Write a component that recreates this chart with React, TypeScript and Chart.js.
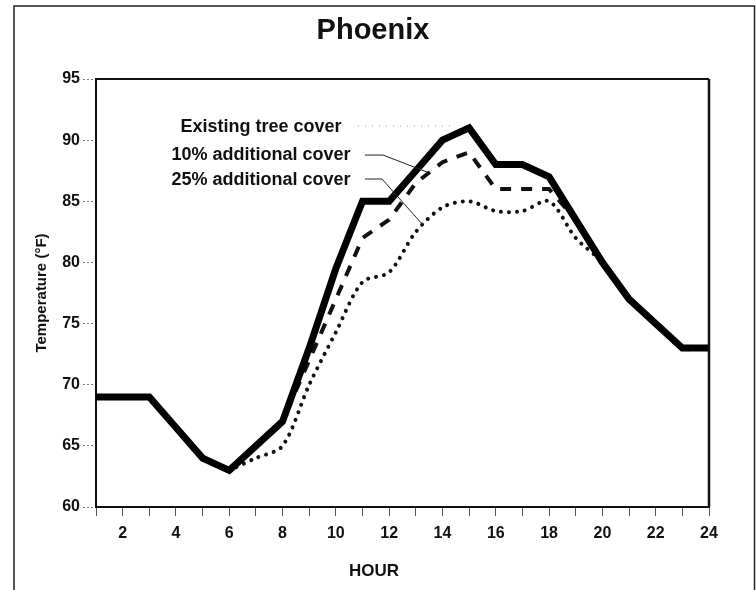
import React, { useEffect, useRef } from "react";
import { Chart, registerables } from "chart.js";

Chart.register(...registerables);

// Hour of day (1–24)
const hours = [1, 2, 3, 4, 5, 6, 7, 8, 9, 10, 11, 12, 13, 14, 15, 16, 17, 18, 19, 20, 21, 22, 23, 24];

// Air temperature (°F) under each tree-cover scenario
const existingCover = [69, 69, 69, 66.5, 64, 63, 65, 67, 73, 79.5, 85, 85, 87.5, 90, 91, 88, 88, 87, 83.5, 80, 77, 75, 73, 73];
const additional10 = [null, null, null, null, null, 63, 65, 67, 72, 77, 82, 83.5, 86.5, 88.2, 89, 86, 86, 86, 83.5, 80, 77, 75, 73, 73];
const additional25 = [null, null, null, null, null, 63, 64, 65, 70, 74.3, 78.4, 79.2, 82.5, 84.5, 85, 84.2, 84.2, 85, 82, 80, 77, 75, 73, 73];

const seriesNames = ["Existing tree cover", "10% additional cover", "25% additional cover"];

const titleText = "Phoenix";
const xAxisTitle = "HOUR";
const yAxisTitle = "Temperature (°F)";

const FONT = "'Liberation Sans', Arial, sans-serif";

const toPoints = (vals: (number | null)[]) => hours.map((h, i) => ({ x: h, y: vals[i] }));

// Text labels with leader lines (positions in hour / °F space)
const legendItems = [
  { text: seriesNames[0], at: [7.19, 90.66], leader: [[10.83, 91.15], [14.28, 91.15]], dotted: true },
  { text: seriesNames[1], at: [7.19, 88.37], leader: [[11.09, 88.78], [11.77, 88.78], [13.42, 87.39]], dotted: false },
  { text: seriesNames[2], at: [7.19, 86.33], leader: [[11.09, 86.82], [11.73, 86.82], [13.27, 83.06]], dotted: false },
];

const decorations = {
  id: "decorations",
  afterDraw(chart: any) {
    const { ctx, chartArea: a, scales } = chart;
    const xs = scales.x;
    const ys = scales.y;
    ctx.save();

    // outer frame
    ctx.strokeStyle = "#222";
    ctx.lineWidth = 1.5;
    ctx.beginPath();
    ctx.moveTo(14, 590);
    ctx.lineTo(14, 6);
    ctx.lineTo(754.5, 6);
    ctx.lineTo(754.5, 590);
    ctx.stroke();

    // top and right edges of the plot box
    ctx.strokeStyle = "#111";
    ctx.lineWidth = 2;
    ctx.beginPath();
    ctx.moveTo(a.left, a.top);
    ctx.lineTo(a.right, a.top);
    ctx.stroke();
    ctx.lineWidth = 2.5;
    ctx.beginPath();
    ctx.moveTo(a.right, a.top);
    ctx.lineTo(a.right, a.bottom);
    ctx.stroke();

    // title
    ctx.fillStyle = "#111";
    ctx.textAlign = "center";
    ctx.textBaseline = "alphabetic";
    ctx.font = `bold 29px ${FONT}`;
    ctx.fillText(titleText, 373, 39);

    // x axis title
    ctx.font = `bold 17px ${FONT}`;
    ctx.fillText(xAxisTitle, 374, 576);

    // legend labels and leader lines
    ctx.font = `bold 18px ${FONT}`;
    for (const item of legendItems) {
      ctx.fillStyle = "#111";
      ctx.fillText(item.text, xs.getPixelForValue(item.at[0]), ys.getPixelForValue(item.at[1]));
      ctx.beginPath();
      item.leader.forEach((p, i) => {
        const px = xs.getPixelForValue(p[0]);
        const py = ys.getPixelForValue(p[1]);
        if (i === 0) ctx.moveTo(px, py);
        else ctx.lineTo(px, py);
      });
      if (item.dotted) {
        ctx.strokeStyle = "#999";
        ctx.setLineDash([1, 6]);
      } else {
        ctx.strokeStyle = "#222";
        ctx.setLineDash([]);
      }
      ctx.lineWidth = 1;
      ctx.stroke();
    }
    ctx.restore();
  },
};

export default function App() {
  const canvasRef = useRef<HTMLCanvasElement | null>(null);

  useEffect(() => {
    const canvas = canvasRef.current;
    if (!canvas) return;
    const chart = new Chart(canvas, {
      type: "line",
      data: {
        datasets: [
          {
            label: seriesNames[2],
            data: toPoints(additional25),
            borderColor: "#111",
            borderWidth: 4,
            borderDash: [0.01, 8],
            borderCapStyle: "round",
            tension: 0.3,
            pointRadius: 0,
            spanGaps: false,
            order: 3,
          },
          {
            label: seriesNames[1],
            data: toPoints(additional10),
            borderColor: "#111",
            borderWidth: 4,
            borderDash: [11, 10],
            borderCapStyle: "butt",
            tension: 0,
            pointRadius: 0,
            order: 2,
          },
          {
            label: seriesNames[0],
            data: toPoints(existingCover),
            borderColor: "#000",
            borderWidth: 7,
            borderJoinStyle: "miter",
            tension: 0,
            pointRadius: 0,
            order: 1,
          },
        ],
      },
      options: {
        animation: false,
        responsive: false,
        maintainAspectRatio: false,
        layout: { padding: { left: 0, top: 79, right: 47, bottom: 0 } },
        plugins: {
          legend: { display: false },
          tooltip: { enabled: false },
          title: { display: false },
        },
        scales: {
          x: {
            type: "linear",
            min: 1,
            max: 24,
            ticks: {
              stepSize: 1,
              autoSkip: false,
              maxRotation: 0,
              padding: 8,
              color: "#111",
              font: { family: FONT, size: 16, weight: "bold" },
              callback: (v: any) => (Number(v) % 2 === 0 ? String(v) : ""),
            },
            grid: { drawOnChartArea: false, drawTicks: true, tickLength: 9, tickColor: "#555", tickWidth: 1 },
            border: { display: true, color: "#111", width: 2 },
            afterFit: (s: any) => {
              s.height = 83;
            },
          },
          y: {
            min: 60,
            max: 95,
            ticks: {
              stepSize: 5,
              padding: 3,
              color: "#111",
              font: { family: FONT, size: 16, weight: "bold" },
            },
            grid: {
              drawOnChartArea: false,
              drawTicks: true,
              tickLength: 13,
              tickColor: "#777",
              tickWidth: 1,
              tickBorderDash: [2, 2],
            },
            border: { display: true, color: "#111", width: 2 },
            title: {
              display: true,
              text: yAxisTitle,
              color: "#111",
              font: { family: FONT, size: 15, weight: "bold" },
              padding: { top: 33, bottom: 0 },
            },
            afterFit: (s: any) => {
              s.width = 96;
            },
          },
        },
      },
      plugins: [decorations],
    } as any);
    return () => chart.destroy();
  }, []);

  return (
    <div style={{ position: "absolute", left: 0, top: 0, width: 756, height: 590, background: "#fff" }}>
      <canvas ref={canvasRef} width={756} height={590} style={{ display: "block" }} />
    </div>
  );
}
